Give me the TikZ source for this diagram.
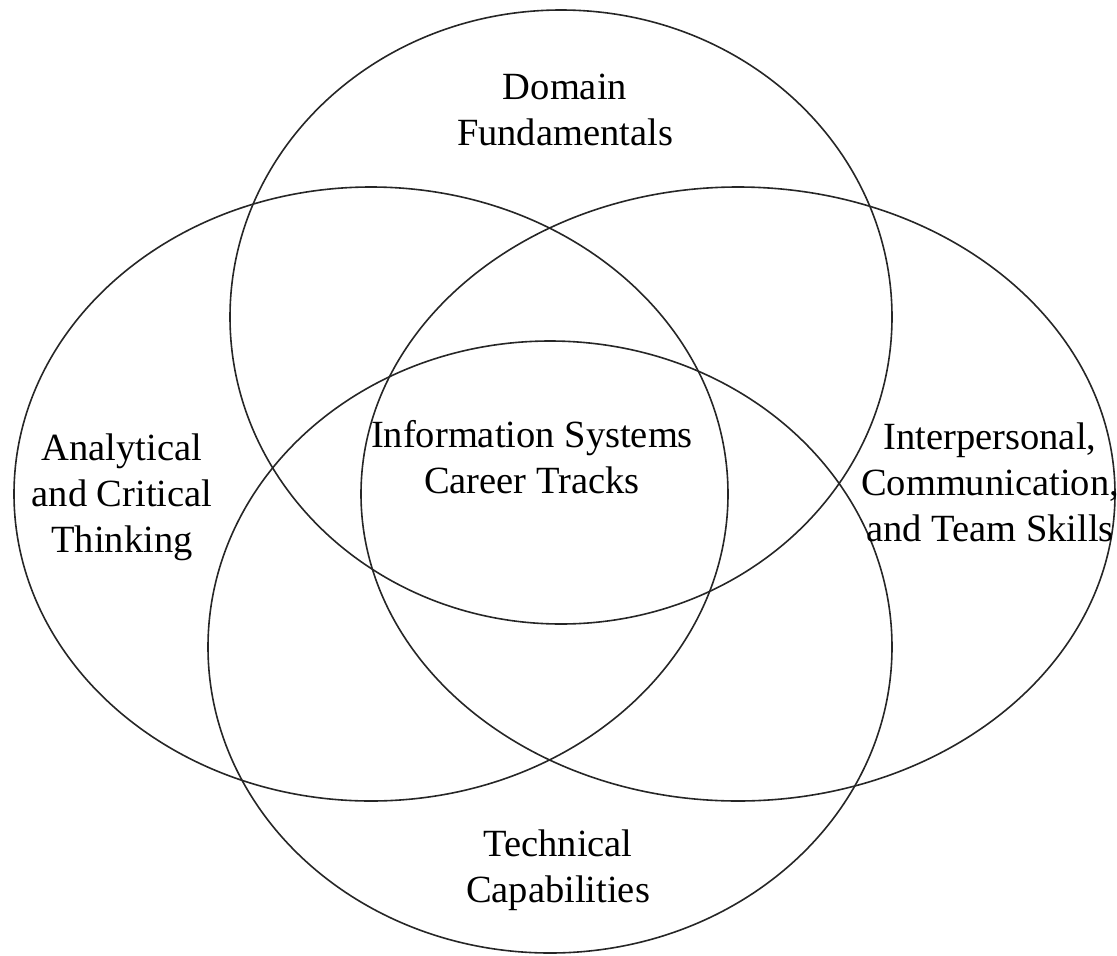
\documentclass[tikz,border=0pt]{standalone}
\usepackage{fontspec}
\setmainfont{Liberation Serif}
\begin{document}
\begin{tikzpicture}[x=1pt,y=-1pt,
  ring/.style={draw=black!85, line width=1.6pt},
  lbl/.style={align=center, inner sep=0pt, anchor=base, font=\fontsize{38.5}{46}\selectfont}]
\useasboundingbox (0,0) rectangle (1117,956);
% top circle: Domain Fundamentals
\draw[ring] (561,317) ellipse [x radius=331, y radius=307];
% left ellipse: Analytical and Critical Thinking
\draw[ring] (371,494) ellipse [x radius=357, y radius=307];
% right ellipse: Interpersonal, Communication, and Team Skills
\draw[ring] (738,494) ellipse [x radius=377, y radius=307];
% bottom circle: Technical Capabilities
\draw[ring] (550,647) ellipse [x radius=342, y radius=306];
\node[lbl] (dom) at (565,145) {Domain\\Fundamentals};
\node[lbl] (ana) at (122,552) {Analytical\\and Critical\\Thinking};
\node[lbl] (inf) at (532,493) {Information Systems\\Career Tracks};
\node[lbl] (int) at (990,541) {Interpersonal,\\Communication,\\and Team Skills};
\node[lbl] (tec) at (558,902) {Technical\\Capabilities};
\end{tikzpicture}
\end{document}
